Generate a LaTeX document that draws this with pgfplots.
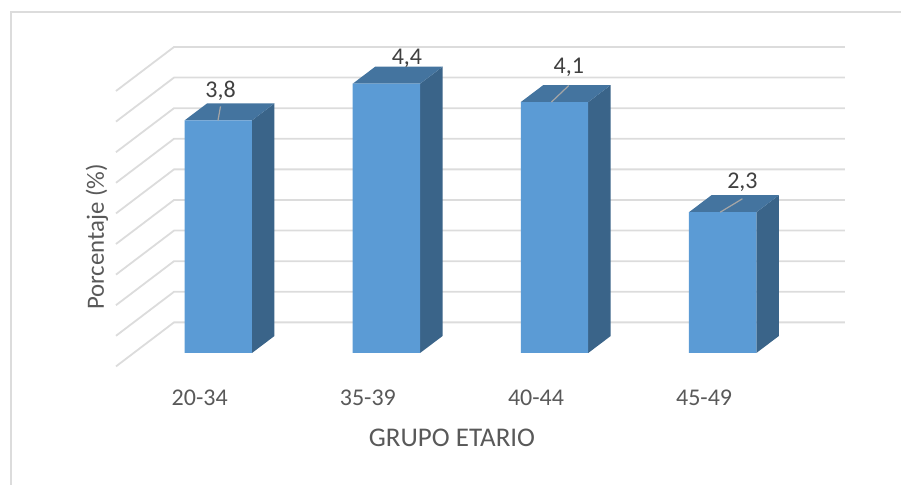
\documentclass[border=0pt]{standalone}
\usepackage{pgfplots}
\pgfplotsset{compat=1.18}
\usepackage{fontspec}
\setmainfont{Carlito}
\definecolor{fr}{HTML}{5B9BD5}
\definecolor{sd}{HTML}{3A6489}
\definecolor{tp}{HTML}{44749F}
\definecolor{gl}{HTML}{DCDCDC}
\definecolor{tx}{HTML}{595959}
\definecolor{lb}{HTML}{404040}
\definecolor{ld}{HTML}{A6A6A6}
\begin{document}
\begin{tikzpicture}
\begin{axis}[
  at={(0,0)},anchor=south west,
  scale only axis,width=901pt,height=485pt,
  xmin=-1.2981,xmax=4.0609,ymin=-2.1569,ymax=5.768,
  axis line style={draw=none},
  xtick={0,1,2,3},xticklabels={20-34,35-39,40-44,45-49},
  ytick=\empty,
  tick style={draw=none},
  x tick label style={font=\fontsize{24}{26}\selectfont,text=tx,yshift=99pt,xshift=-18.5pt},
  xlabel={GRUPO ETARIO},
  xlabel style={at={(axis description cs:0.5017,0.0969)},anchor=center,font=\fontsize{27}{29}\selectfont,text=tx},
  ylabel={Porcentaje (\%)},
  ylabel style={at={(axis description cs:0.1077,0.5113)},anchor=center,font=\fontsize{24.8}{26}\selectfont,text=tx,rotate=0},
  clip=true,
]
% frame
\draw[gl,line width=1.6pt] (axis cs:-1.2327,-2.1569) -- (axis cs:-1.2327,5.573) -- (axis cs:4.0609,5.573);
% grid
\pgfplotsinvokeforeach{0.5,1,1.5,2,2.5,3,3.5,4,4.5,5}{
  \addplot[gl,line width=1.8pt] coordinates {(3.7277,#1) (-0.2632,#1) (-0.6082,#1-0.719)};
}
% side and top faces
\addplot[fill=sd,draw=none] coordinates {(0.2005,0) (0.3343,0.2778) (0.3343,4.0778) (0.2005,3.8)} -- cycle;
\addplot[fill=tp,draw=none] coordinates {(-0.2005,3.8) (-0.0667,4.0778) (0.3343,4.0778) (0.2005,3.8)} -- cycle;
\addplot[fill=sd,draw=none] coordinates {(1.2005,0) (1.3343,0.2778) (1.3343,4.6778) (1.2005,4.4)} -- cycle;
\addplot[fill=tp,draw=none] coordinates {(0.7995,4.4) (0.9333,4.6778) (1.3343,4.6778) (1.2005,4.4)} -- cycle;
\addplot[fill=sd,draw=none] coordinates {(2.2005,0) (2.3343,0.2778) (2.3343,4.3778) (2.2005,4.1)} -- cycle;
\addplot[fill=tp,draw=none] coordinates {(1.7995,4.1) (1.9333,4.3778) (2.3343,4.3778) (2.2005,4.1)} -- cycle;
\addplot[fill=sd,draw=none] coordinates {(3.2005,0) (3.3343,0.2778) (3.3343,2.5778) (3.2005,2.3)} -- cycle;
\addplot[fill=tp,draw=none] coordinates {(2.7995,2.3) (2.9333,2.5778) (3.3343,2.5778) (3.2005,2.3)} -- cycle;
% front faces
\addplot[ybar,bar width=67.4pt,fill=fr,draw=none,bar shift=0pt] coordinates {(0,3.8) (1,4.4) (2,4.1) (3,2.3)};
% leader lines
\addplot[ld,line width=1.2pt] coordinates {(-0.0015,3.8) (0.0134,4.03)};
\addplot[ld,line width=1.2pt] coordinates {(1.1195,4.6778) (1.1250,4.72)};
\addplot[ld,line width=1.2pt] coordinates {(1.9816,4.1) (2.0848,4.37)};
\addplot[ld,line width=1.2pt] coordinates {(2.9851,2.3) (3.1177,2.52)};
% data labels
\node[font=\fontsize{24}{26}\selectfont,text=lb] at (axis cs:0.0134,4.285) {3,8};
\node[font=\fontsize{24}{26}\selectfont,text=lb] at (axis cs:1.1225,4.81) {4,4};
\node[font=\fontsize{24}{26}\selectfont,text=lb] at (axis cs:2.0848,4.675) {4,1};
\node[font=\fontsize{24}{26}\selectfont,text=lb] at (axis cs:3.1177,2.795) {2,3};
\end{axis}
\end{tikzpicture}
\end{document}
